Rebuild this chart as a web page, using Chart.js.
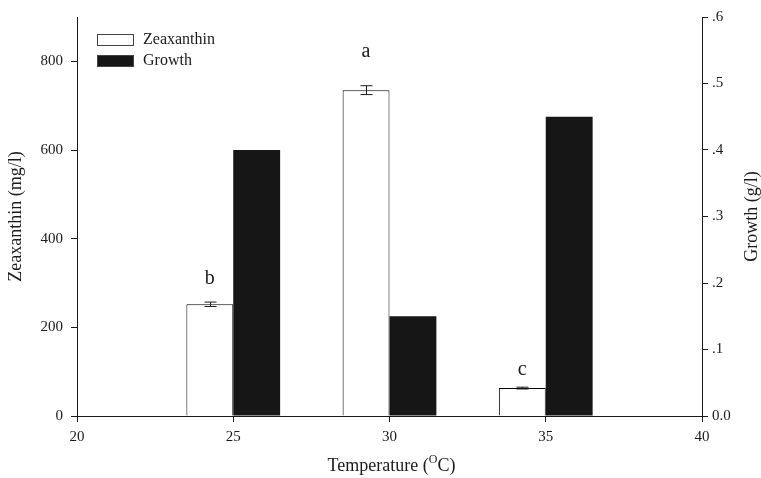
<!DOCTYPE html>
<html>
<head>
<meta charset="utf-8">
<script src="https://cdn.jsdelivr.net/npm/chart.js@4.4.1/dist/chart.umd.min.js"></script>
<style>
  html, body { margin: 0; padding: 0; background: #fff; }
  #wrap { width: 761px; height: 478px; }
</style>
</head>
<body>
<div id="wrap"><canvas id="chart" width="761" height="478"></canvas></div>
<script>
// datos
const temps = [25, 30, 35];
const zeaxanthin = [252, 735, 63];
const zeaxErr = [5, 10, 2];
const growth = [0.40, 0.15, 0.45];
const letters = ["b", "a", "c"];
const letterY = [297, 809, 92];
const xTicks = [20, 25, 30, 35, 40];
const leftTicks = [0, 200, 400, 600, 800];
const rightTicks = [0, 0.1, 0.2, 0.3, 0.4, 0.5, 0.6];
const rightLabels = ["0.0", ".1", ".2", ".3", ".4", ".5", ".6"];

const serif = "'Liberation Serif', 'Times New Roman', serif";
const ink = "#1a1a1a";

// barras de error, letras, leyenda y titulos extra
const extras = {
    id: "extras",
    afterDatasetsDraw(c) {
        const ctx = c.ctx;
        const y = c.scales.y;
        const meta = c.getDatasetMeta(0);
        ctx.save();
        ctx.strokeStyle = ink;
        ctx.lineWidth = 1;
        meta.data.forEach((bar, i) => {
            const top = y.getPixelForValue(zeaxanthin[i] + zeaxErr[i]);
            const bot = y.getPixelForValue(zeaxanthin[i] - zeaxErr[i]);
            const x = Math.round(bar.x) + 0.5;
            ctx.beginPath();
            ctx.moveTo(x, top); ctx.lineTo(x, bot);
            ctx.moveTo(x - 6, top); ctx.lineTo(x + 6, top);
            ctx.moveTo(x - 6, bot); ctx.lineTo(x + 6, bot);
            ctx.stroke();
            ctx.fillStyle = ink;
            ctx.font = "20px " + serif;
            ctx.textAlign = "center";
            ctx.textBaseline = "alphabetic";
            ctx.fillText(letters[i], bar.x, y.getPixelForValue(letterY[i]));
        });

        // leyenda
        const items = [
            { label: "Zeaxanthin", fill: "#ffffff" },
            { label: "Growth", fill: "#161616" }
        ];
        items.forEach((it, i) => {
            const by = 34 + i * 21;
            ctx.fillStyle = it.fill;
            ctx.fillRect(97, by, 37, 12);
            ctx.strokeStyle = "#444";
            ctx.strokeRect(97.5, by + 0.5, 36, 11);
            ctx.fillStyle = ink;
            ctx.font = "16px " + serif;
            ctx.textAlign = "left";
            ctx.textBaseline = "middle";
            ctx.fillText(it.label, 143, by + 6);
        });

        // titulo eje derecho (girado igual que el izquierdo)
        ctx.save();
        ctx.translate(752, (c.chartArea.top + c.chartArea.bottom) / 2);
        ctx.rotate(-Math.PI / 2);
        ctx.font = "18px " + serif;
        ctx.textAlign = "center";
        ctx.textBaseline = "middle";
        ctx.fillText("Growth (g/l)", 0, 0);
        ctx.restore();

        // titulo eje x con superindice
        ctx.textBaseline = "alphabetic";
        ctx.textAlign = "left";
        const a = "Temperature (";
        const sup = "O";
        const b = "C)";
        ctx.font = "18px " + serif;
        const wa = ctx.measureText(a).width;
        const wb = ctx.measureText(b).width;
        ctx.font = "12px " + serif;
        const ws = ctx.measureText(sup).width;
        const cx = (c.chartArea.left + c.chartArea.right) / 2 + 2;
        let x0 = cx - (wa + ws + wb) / 2;
        const base = 471;
        ctx.font = "18px " + serif;
        ctx.fillText(a, x0, base);
        ctx.font = "12px " + serif;
        ctx.fillText(sup, x0 + wa, base - 8);
        ctx.font = "18px " + serif;
        ctx.fillText(b, x0 + wa + ws, base);
        ctx.restore();
    }
};

const ctx = document.getElementById("chart").getContext("2d");
const chart = new Chart(ctx, {
    type: "bar",
    data: {
        datasets: [{
            label: "Zeaxanthin",
            data: temps.map((t, i) => ({ x: t, y: zeaxanthin[i] })),
            backgroundColor: "#ffffff",
            borderColor: "#000",
            borderWidth: 1,
            yAxisID: "y",
            categoryPercentage: 0.6,
            barPercentage: 1.0
        }, {
            label: "Growth",
            data: temps.map((t, i) => ({ x: t, y: growth[i] })),
            backgroundColor: "#161616",
            borderWidth: 0,
            yAxisID: "y1",
            categoryPercentage: 0.6,
            barPercentage: 1.0
        }]
    },
    options: {
        responsive: false,
        animation: false,
        layout: { padding: { top: 15, left: 0, right: 0, bottom: 0 } },
        plugins: { legend: { display: false }, tooltip: { enabled: false } },
        scales: {
            x: {
                type: "linear",
                min: 20,
                max: 40,
                offset: false,
                afterBuildTicks: s => { s.ticks = xTicks.map(v => ({ value: v })); },
                afterFit: s => { s.height = 62; },
                ticks: { color: ink, font: { family: serif, size: 15 }, padding: 6, maxRotation: 0 },
                grid: { drawOnChartArea: false, offset: false, color: ink, tickLength: 6 },
                border: { color: ink, width: 1 }
            },
            y: {
                position: "left",
                min: 0,
                max: 900,
                afterBuildTicks: s => { s.ticks = leftTicks.map(v => ({ value: v })); },
                afterFit: s => { s.width = 77; },
                ticks: { color: ink, font: { family: serif, size: 15 }, padding: 8 },
                grid: { drawOnChartArea: false, color: ink, tickLength: 6 },
                border: { color: ink, width: 1 },
                title: {
                    display: true,
                    text: "Zeaxanthin (mg/l)",
                    color: ink,
                    font: { family: serif, size: 18 },
                    padding: { top: 5, bottom: 0 }
                }
            },
            y1: {
                position: "right",
                min: 0,
                max: 0.6,
                afterBuildTicks: s => { s.ticks = rightTicks.map(v => ({ value: v })); },
                afterFit: s => { s.width = 59; },
                ticks: {
                    color: ink,
                    font: { family: serif, size: 15 },
                    padding: 4,
                    callback: (v, i) => rightLabels[i]
                },
                grid: { drawOnChartArea: false, color: ink, tickLength: 6 },
                border: { color: ink, width: 1 }
            }
        }
    },
    plugins: [extras]
});
</script>
</body>
</html>
